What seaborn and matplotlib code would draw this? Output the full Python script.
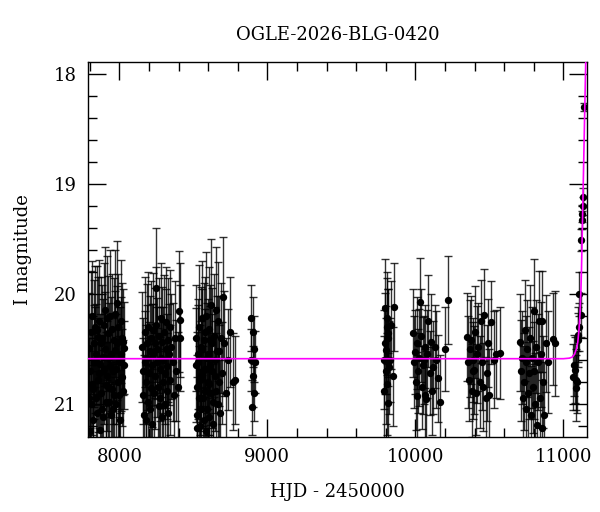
import numpy as np
import pandas as pd
import seaborn as sns
import matplotlib
matplotlib.use("Agg")
import matplotlib.pyplot as plt
from matplotlib.ticker import MultipleLocator

# photometry per observing season: HJD - 2450000, I magnitude, error
s1_hjd = [7793, 7797, 7801, 7804, 7808, 7811, 7815, 7817, 7821, 7824, 7828, 7830,
          7834, 7838, 7841, 7845, 7848, 7851, 7855, 7858, 7862, 7865, 7869, 7872,
          7876, 7879, 7882, 7885, 7889, 7892, 7896, 7899, 7902, 7905, 7909, 7912,
          7916, 7919, 7922, 7926, 7929, 7932, 7936, 7939, 7943, 7946, 7950, 7953,
          7957, 7960, 7963, 7966, 7970, 7973, 7977, 7980, 7983, 7986, 7990, 7993,
          7997, 8000, 8004, 8007, 8011, 8014, 8017, 8020, 8024, 8027, 8031, 8034]
s1_mag = [20.49, 20.95, 21.25, 20.70, 21.00, 20.35, 20.20, 20.82, 20.87, 21.15, 20.62, 20.45,
          20.60, 20.30, 20.95, 20.55, 20.33, 21.08, 20.39, 20.78, 20.72, 20.25, 21.24, 20.64,
          20.45, 20.90, 21.05, 20.40, 20.57, 21.12, 20.28, 20.68, 20.15, 20.50, 20.83, 20.98,
          20.75, 20.22, 20.36, 20.85, 20.98, 20.58, 20.20, 20.66, 20.55, 21.10, 20.87, 20.32,
          21.05, 20.70, 20.42, 20.92, 20.51, 20.18, 20.68, 21.00, 20.08, 20.45, 20.30, 20.80,
          20.92, 20.62, 20.60, 21.15, 20.25, 20.55, 20.76, 20.40, 20.44, 20.88, 20.49, 20.65]
s1_err = [0.50, 0.55, 0.45, 0.52, 0.48, 0.56, 0.50, 0.46, 0.54, 0.50, 0.52, 0.58,
          0.48, 0.55, 0.50, 0.46, 0.58, 0.52, 0.54, 0.48, 0.50, 0.56, 0.52, 0.46,
          0.60, 0.50, 0.54, 0.48, 0.52, 0.46, 0.56, 0.50, 0.58, 0.52, 0.48, 0.54,
          0.50, 0.56, 0.52, 0.48, 0.54, 0.50, 0.60, 0.46, 0.52, 0.48, 0.54, 0.50,
          0.52, 0.48, 0.56, 0.50, 0.54, 0.58, 0.50, 0.46, 0.56, 0.52, 0.48, 0.50,
          0.54, 0.50, 0.48, 0.46, 0.56, 0.52, 0.44, 0.50, 0.48, 0.46, 0.42, 0.40]

s2_hjd = [8156, 8160, 8163, 8167, 8171, 8175, 8178, 8182, 8186, 8190, 8193, 8197,
          8201, 8205, 8208, 8212, 8216, 8220, 8223, 8227, 8231, 8235, 8238, 8242,
          8246, 8250, 8253, 8257, 8261, 8265, 8268, 8272, 8276, 8280, 8283, 8287,
          8291, 8295, 8298, 8302, 8306, 8310, 8313, 8317, 8321, 8325, 8328, 8332,
          8336, 8340, 8345, 8352, 8360, 8368, 8376, 8385, 8394, 8402, 8408, 8413]
s2_mag = [20.48, 20.92, 20.70, 21.10, 20.35, 20.62, 20.80, 21.15, 20.45, 20.58, 20.98, 20.30,
          20.72, 21.05, 20.52, 20.40, 20.86, 20.65, 21.18, 20.33, 20.55, 20.90, 20.45, 20.75,
          20.28, 19.95, 20.62, 20.50, 20.85, 21.02, 20.38, 20.68, 20.95, 20.22, 20.58, 21.12,
          20.44, 20.80, 20.60, 20.35, 21.00, 20.72, 20.50, 20.26, 20.88, 20.66, 20.42, 21.08,
          20.55, 20.30, 20.78, 20.48, 20.62, 20.92, 20.40, 20.70, 20.85, 20.16, 20.40, 20.24]
s2_err = [0.50, 0.52, 0.48, 0.54, 0.50, 0.46, 0.52, 0.50, 0.54, 0.48, 0.52, 0.50,
          0.46, 0.54, 0.50, 0.52, 0.48, 0.56, 0.50, 0.52, 0.46, 0.54, 0.50, 0.48,
          0.52, 0.55, 0.50, 0.46, 0.54, 0.50, 0.52, 0.48, 0.56, 0.50, 0.46, 0.52,
          0.50, 0.54, 0.48, 0.52, 0.50, 0.46, 0.54, 0.50, 0.52, 0.48, 0.56, 0.50,
          0.46, 0.52, 0.50, 0.48, 0.54, 0.50, 0.52, 0.46, 0.50, 0.55, 0.48, 0.52]

s3_hjd = [8516, 8519, 8522, 8525, 8528, 8531, 8534, 8537, 8540, 8543, 8546, 8549,
          8552, 8555, 8558, 8561, 8564, 8567, 8570, 8573, 8576, 8579, 8582, 8585,
          8588, 8591, 8594, 8597, 8600, 8603, 8606, 8609, 8612, 8615, 8618, 8622,
          8625, 8629, 8632, 8636, 8640, 8644, 8648, 8652, 8656, 8660, 8664, 8668,
          8672, 8676, 8680, 8686, 8692, 8700, 8710, 8722, 8735, 8750, 8768, 8784]
s3_mag = [20.40, 20.65, 20.85, 21.22, 21.10, 20.55, 20.62, 20.95, 20.30, 20.78, 21.20, 20.48,
          20.75, 21.05, 20.50, 20.22, 20.95, 20.70, 21.15, 20.42, 20.35, 20.88, 20.68, 21.25,
          20.20, 20.58, 21.05, 20.80, 20.55, 20.32, 20.82, 21.12, 20.42, 20.65, 20.10, 20.90,
          20.70, 20.45, 20.98, 21.18, 20.38, 20.75, 20.60, 20.15, 20.88, 20.52, 20.25, 21.00,
          20.52, 20.80, 21.08, 20.40, 20.72, 20.03, 20.45, 20.90, 20.60, 20.35, 20.80, 20.78]
s3_err = [0.48, 0.52, 0.50, 0.46, 0.54, 0.50, 0.52, 0.48, 0.56, 0.50, 0.52, 0.54,
          0.50, 0.46, 0.54, 0.52, 0.48, 0.50, 0.56, 0.52, 0.50, 0.48, 0.54, 0.46,
          0.58, 0.50, 0.52, 0.48, 0.50, 0.56, 0.46, 0.52, 0.50, 0.54, 0.60, 0.48,
          0.52, 0.50, 0.46, 0.54, 0.56, 0.50, 0.48, 0.58, 0.52, 0.50, 0.54, 0.46,
          0.50, 0.52, 0.48, 0.50, 0.46, 0.55, 0.48, 0.50, 0.46, 0.50, 0.44, 0.40]

s4_hjd = [8888, 8892, 8896, 8900, 8904, 8908, 8912, 8918]
s4_mag = [20.22, 20.60, 21.03, 20.35, 20.75, 20.50, 20.90, 20.62]
s4_err = [0.30, 0.28, 0.25, 0.32, 0.28, 0.30, 0.26, 0.28]

s5_hjd = [9788, 9790, 9793, 9797, 9800, 9803, 9806, 9808, 9810, 9812, 9815, 9818,
          9822, 9828, 9835, 9851, 9858]
s5_mag = [20.60, 20.88, 20.45, 20.13, 20.70, 20.51, 20.30, 20.22, 20.82, 20.99, 20.40, 20.36,
          20.67, 20.60, 20.28, 20.75, 20.12]
s5_err = [0.45, 0.50, 0.46, 0.45, 0.48, 0.40, 0.44, 0.42, 0.46, 0.45, 0.44, 0.40,
          0.42, 0.38, 0.40, 0.45, 0.40]

s6_hjd = [9984, 9990, 9996, 10002, 10008, 10014, 10020, 10026, 10032, 10038,
          10044, 10050, 10056, 10062, 10068, 10074, 10080, 10088, 10096, 10104,
          10112, 10120, 10130, 10140, 10150, 10165, 10203, 10223]
s6_mag = [20.36, 20.62, 20.53, 20.80, 20.93, 20.45, 20.70, 20.58, 20.07, 20.38,
          20.85, 20.65, 20.60, 20.92, 20.48, 20.96, 20.55, 20.25, 20.72, 20.44,
          20.88, 20.67, 20.48, 20.60, 20.77, 20.98, 20.50, 20.06]
s6_err = [0.40, 0.42, 0.38, 0.44, 0.40, 0.42, 0.38, 0.44, 0.40, 0.42,
          0.38, 0.44, 0.40, 0.42, 0.38, 0.44, 0.40, 0.42, 0.38, 0.44,
          0.40, 0.42, 0.38, 0.44, 0.40, 0.42, 0.38, 0.40]

s7_hjd = [10350, 10356, 10362, 10368, 10374, 10380, 10386, 10392, 10398, 10404,
          10410, 10418, 10426, 10434, 10442, 10450, 10458, 10466, 10474, 10482,
          10490, 10500, 10512, 10528, 10545, 10572]
s7_mag = [20.39, 20.62, 20.78, 20.50, 20.42, 20.88, 20.60, 20.70, 20.69, 20.35,
          20.90, 20.55, 20.48, 20.80, 20.25, 20.62, 20.85, 20.19, 20.95, 20.72,
          20.45, 20.92, 20.26, 20.60, 20.55, 20.54]
s7_err = [0.40, 0.42, 0.38, 0.44, 0.40, 0.42, 0.38, 0.44, 0.40, 0.42,
          0.38, 0.44, 0.40, 0.42, 0.38, 0.44, 0.40, 0.42, 0.38, 0.44,
          0.40, 0.42, 0.38, 0.44, 0.40, 0.42]

s8_hjd = [10708, 10714, 10720, 10726, 10732, 10738, 10744, 10750, 10756, 10762,
          10768, 10774, 10780, 10786, 10792, 10798, 10804, 10810, 10816, 10822,
          10828, 10834, 10840, 10846, 10852, 10858, 10864, 10870, 10880, 10895,
          10932, 10946]
s8_mag = [20.44, 20.70, 20.58, 20.95, 20.80, 20.33, 20.62, 21.05, 20.50, 20.90,
          20.72, 20.40, 21.10, 20.58, 20.85, 20.16, 20.70, 21.00, 20.48, 21.19,
          20.62, 20.25, 20.95, 20.55, 21.22, 20.25, 20.80, 21.10, 20.45, 20.62,
          20.41, 20.45]
s8_err = [0.44, 0.46, 0.42, 0.48, 0.44, 0.46, 0.42, 0.48, 0.44, 0.46,
          0.42, 0.48, 0.44, 0.46, 0.42, 0.48, 0.44, 0.46, 0.42, 0.48,
          0.44, 0.46, 0.42, 0.48, 0.44, 0.46, 0.42, 0.48, 0.44, 0.46,
          0.42, 0.48]

# the rise of the event
s9_hjd = [11067, 11072, 11080, 11084, 11087, 11092, 11096, 11100, 11104, 11108,
          11118, 11122, 11126, 11128, 11130, 11132, 11140]
s9_mag = [20.76, 20.65, 20.69, 20.78, 20.86, 20.80, 20.42, 20.37, 20.30, 20.00,
          20.19, 19.51, 19.33, 19.27, 19.20, 19.12, 18.30]
s9_err = [0.30, 0.28, 0.30, 0.28, 0.30, 0.28, 0.25, 0.25, 0.22, 0.20,
          0.20, 0.10, 0.08, 0.08, 0.08, 0.08, 0.04]

# microlensing model curve
model_hjd = [7790, 11000, 11040, 11060, 11075, 11088, 11097, 11105, 11112,
             11118, 11122, 11128, 11134, 11140, 11146, 11152]
model_mag = [20.59, 20.59, 20.585, 20.575, 20.55, 20.50, 20.44, 20.33, 20.18,
             19.98, 19.78, 19.40, 19.00, 18.60, 18.20, 17.80]

seasons = [(s1_hjd, s1_mag, s1_err), (s2_hjd, s2_mag, s2_err), (s3_hjd, s3_mag, s3_err),
           (s4_hjd, s4_mag, s4_err), (s5_hjd, s5_mag, s5_err), (s6_hjd, s6_mag, s6_err),
           (s7_hjd, s7_mag, s7_err), (s8_hjd, s8_mag, s8_err), (s9_hjd, s9_mag, s9_err)]
phot = pd.concat([pd.DataFrame({"hjd": h, "mag": m, "err": e}) for h, m, e in seasons],
                 ignore_index=True)
model = pd.DataFrame({"hjd": model_hjd, "mag": model_mag})

sns.set_theme(style="ticks")
plt.rcParams["font.family"] = ["DejaVu Serif"]
plt.rcParams["text.color"] = "black"
plt.rcParams["axes.labelcolor"] = "black"

fig = plt.figure(figsize=(6, 5.12), dpi=100)
ax = fig.add_axes([0.147, 0.147, 0.832, 0.732])

ax.errorbar(phot["hjd"], phot["mag"], yerr=phot["err"], fmt="none",
            ecolor="black", elinewidth=1, capsize=3, capthick=1, alpha=0.8, zorder=2)
sns.scatterplot(data=phot, x="hjd", y="mag", ax=ax, color="black", s=28,
                edgecolor="black", linewidth=0, zorder=3)
sns.lineplot(data=model, x="hjd", y="mag", ax=ax, color="#ff00ff", linewidth=1.2,
             sort=False, zorder=4)

ax.set_xlim(7790, 11162)
ax.set_ylim(21.3, 17.89)
ax.xaxis.set_major_locator(MultipleLocator(1000))
ax.xaxis.set_minor_locator(MultipleLocator(200))
ax.yaxis.set_major_locator(MultipleLocator(1))
ax.yaxis.set_minor_locator(MultipleLocator(0.2))
ax.tick_params(which="both", direction="in", top=True, right=True, colors="black",
               labelsize=13, pad=8)
ax.tick_params(which="major", length=13, width=1)
ax.tick_params(which="minor", length=6.5, width=1)
for s in ax.spines.values():
    s.set_color("black")
    s.set_linewidth(1)

ax.set_xlabel("HJD - 2450000", fontsize=13, labelpad=12)
ax.set_ylabel("I magnitude", fontsize=13, labelpad=16)
ax.set_title("OGLE-2026-BLG-0420", fontsize=13, pad=16)

fig.savefig("out.png", dpi=100)
